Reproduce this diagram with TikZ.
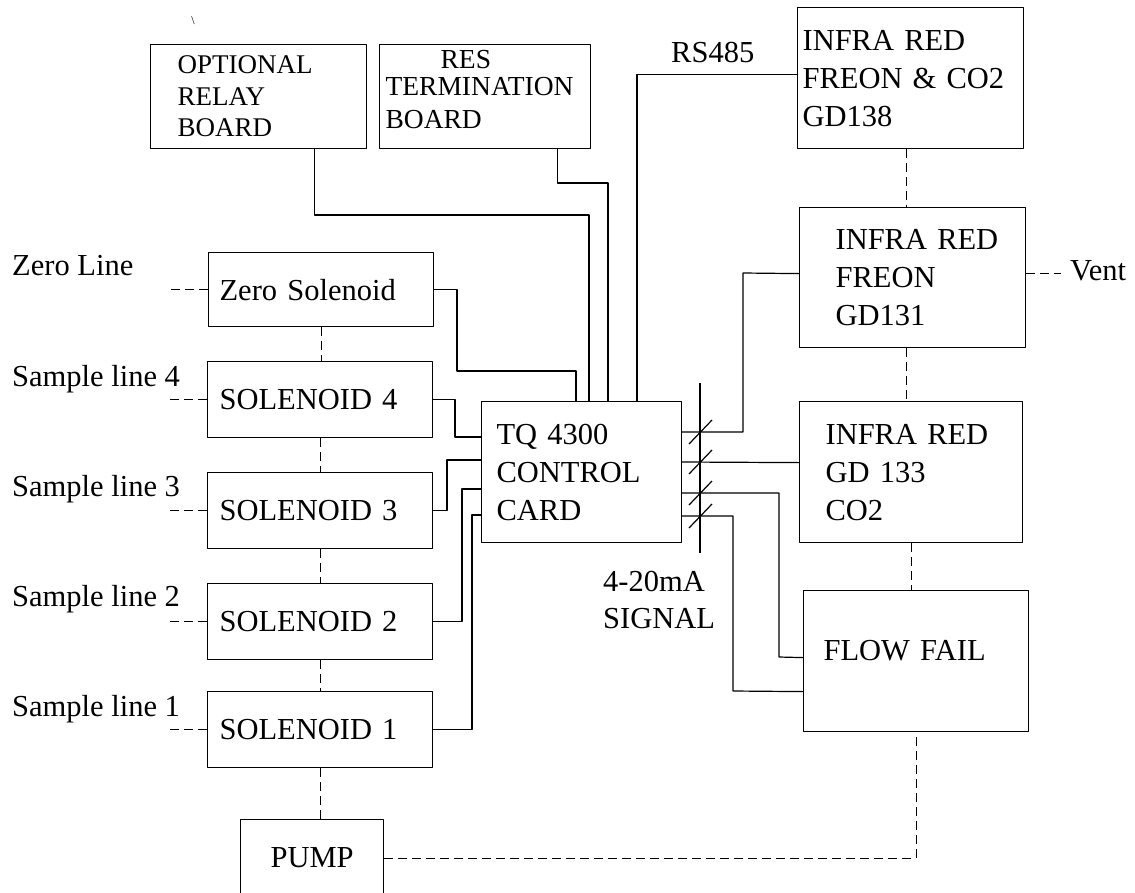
\documentclass[tikz,border=0pt]{standalone}
\usepackage{fontspec}
\setmainfont{Liberation Serif}
\begin{document}
\begin{tikzpicture}[x=1pt, y=-1pt, line join=round,
	box/.style={draw, line width=1.2pt, anchor=north west, inner ysep=2pt, align=left},
	bigtext/.style={font=\fontsize{30.5}{38}\selectfont},
	smalltext/.style={font=\fontsize{27}{31.5}\selectfont},
	lbl/.style={inner sep=0pt, anchor=base west, font=\fontsize{30.5}{37}\selectfont},
	wire/.style={line width=1.2pt},
	pipe/.style={line width=1.2pt, dash pattern=on 9pt off 5pt}]
	\useasboundingbox (0,0) rectangle (1135,892);
	\node[box, smalltext, minimum width=216pt, minimum height=104pt, inner xsep=27pt, text width=162pt] (relay) at (150,44) {OPTIONAL\\RELAY\\BOARD};
	\node[box, font=\fontsize{27.5}{33}\selectfont, minimum width=211pt, minimum height=104pt, inner xsep=6pt, text width=199pt, text height=20pt, text depth=76pt] (res) at (379,44) {\hspace*{55pt}RES\\[-6.5pt]TERMINATION\\BOARD};
	\node[box, bigtext, minimum width=226pt, minimum height=141pt, inner xsep=5pt, text width=216pt] (gdA) at (797,7) {INFRA~RED\\FREON \& CO2\\GD138};
	\node[box, bigtext, minimum width=226pt, minimum height=140pt, inner xsep=36pt, text width=154pt] (gdB) at (799,207) {INFRA~RED\\FREON\\GD131};
	\node[box, bigtext, minimum width=223pt, minimum height=141pt, inner xsep=26pt, text width=171pt] (gdC) at (799,401) {INFRA~RED\\GD 133\\CO2};
	\node[box, bigtext, minimum width=200pt, minimum height=141pt, inner xsep=15pt, text width=170pt] (card) at (481,401) {TQ 4300\\CONTROL\\CARD};
	\node[box, bigtext, minimum width=225pt, minimum height=141pt, inner xsep=20pt, text width=185pt, text height=20pt, text depth=21pt] (flow) at (803,590) {FLOW FAIL};
	\node[box, bigtext, minimum width=225pt, minimum height=74pt, inner xsep=11pt, text width=203pt] (zero) at (208,252) {Zero Solenoid};
	\foreach \k/\y in {4/361,3/472,2/583,1/691}
		\node[box, bigtext, minimum width=225pt, minimum height=76pt, inner xsep=12pt, text width=201pt] (sol\k) at (207,\y) {SOLENOID \k};
	\node[box, bigtext, minimum width=143pt, minimum height=77pt, inner xsep=30pt, text width=83pt] (pump) at (240,819) {PUMP};

	\node[lbl] (zeroline) at (12,275) {Zero Line};
	\foreach \k/\y in {4/386,3/496,2/606,1/716}
		\node[lbl] (line\k) at (12,\y) {Sample line \k};
	\node[lbl] (rs) at (671,62) {RS485};
	\node[lbl, text width=130pt, align=left] (signal) at (603,591) {4-20mA\\SIGNAL};
	\node[lbl] (vent) at (1070,280) {Vent};
	\node[inner sep=0pt, font=\fontsize{12}{12}\selectfont] (tick) at (193,21) {\textbackslash};

	\draw[wire] ([xshift=56pt]relay.south) |- (589,215) -- ([xshift=108pt]card.north west);
	\draw[wire] ([xshift=72.5pt]res.south) |- (608,183) -- ([xshift=127pt]card.north west);
	\draw[wire] ([xshift=156pt]card.north west) |- ([yshift=4pt]gdA.west);
	\draw[wire] (zero.east) -| (457,371) -| ([xshift=95pt]card.north west);
	\draw[wire] (sol4.east) -| (455,437) -- ([yshift=-36pt]card.north west);
	\draw[wire] (sol3.east) -| (447,460) -- ([yshift=-59pt]card.north west);
	\draw[wire] (sol2.east) -| (462,489) -- ([yshift=-88pt]card.north west);
	\draw[wire] (sol1.east) -| (472,515) -- ([yshift=-114pt]card.north west);
	\draw[wire] ([yshift=-31pt]card.north east) -| (743,273) -- ([yshift=4pt]gdB.west);
	\draw[wire] ([yshift=-61pt]card.north east) -- ([yshift=9.5pt]gdC.west);
	\draw[wire] ([yshift=-92pt]card.north east) -| (779,657) -- ([yshift=3.5pt]flow.west);
	\draw[wire] ([yshift=-115pt]card.north east) -| (733,691) -- ([yshift=-30.5pt]flow.west);

	\coordinate (busTop) at (700,383);
	\coordinate (busBot) at (700,553);
	\draw[wire] (busTop) -- (busBot);
	\foreach \y in {432,462,493,516}
		\draw[wire] (689,\y+12) -- (712,\y-12);

	\foreach \n in {zero,sol4,sol3,sol2,sol1}
		\draw[pipe] (\n.west) -- ++(-37,0);
	\foreach \a/\b in {zero/sol4,sol4/sol3,sol3/sol2,sol2/sol1,sol1/pump}
		\draw[pipe] (\a.south) -- (\a.south |- \b.north);
	\draw[pipe] (pump.east) -| (flow.south);
	\draw[pipe] ([xshift=-4pt]gdA.south) -- ++(0,59);
	\draw[pipe] ([xshift=-6pt]gdB.south) -- ++(0,54);
	\draw[pipe] (gdC.south) -- (gdC.south |- flow.north);
	\draw[pipe] ([yshift=4pt]gdB.east) -- ++(35,0);
\end{tikzpicture}
\end{document}
